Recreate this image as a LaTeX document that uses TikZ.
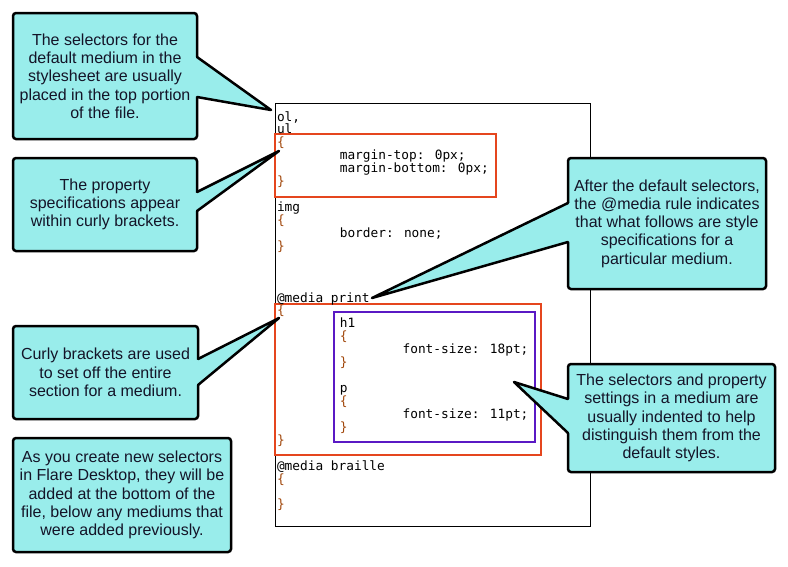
\documentclass[tikz,border=0pt]{standalone}
\usepackage{fontspec}
\setmainfont{Liberation Sans}
\newfontfamily\codefont{DejaVu Sans Mono}
\usetikzlibrary{calc}
\definecolor{callfill}{RGB}{153,237,235}
\definecolor{calltext}{RGB}{20,20,40}
\definecolor{bracecol}{RGB}{160,70,10}
\definecolor{redbox}{RGB}{229,70,30}
\definecolor{purplebox}{RGB}{90,25,196}
\tikzset{
  callbox/.style={draw=black, fill=callfill, line width=2.5pt, rounded corners=3pt,
    align=center, font=\fontsize{16}{18.3}\selectfont, text=calltext,
    inner sep=0pt, outer sep=0pt},
  wedgeline/.style={draw=black, line width=2.5pt, line join=round, line cap=round},
  code/.style={anchor=base west, inner sep=0pt, outer sep=0pt,
    font=\codefont\fontsize{12.8}{13}\selectfont, text=black},
  brc/.style={code, text=bracecol},
  codeframe/.style={draw=black, line width=1pt},
  redframe/.style={draw=redbox, line width=2pt},
  purpleframe/.style={draw=purplebox, line width=2pt},
}
\newcommand\codeln[5][code]{\node[#1] (#2) at ({277+7.85*#3},{121+12.93*#4}) {#5};}
\begin{document}
\begin{tikzpicture}[x=1pt,y=-1pt]
\useasboundingbox (0,0) rectangle (788,566);
% code frame
\draw[codeframe] (275,103) rectangle (590,526);
\draw[redframe] (275,134) rectangle (496,197);
\draw[redframe] (275,304) rectangle (541,455);
\draw[purpleframe] (334,312) rectangle (535,442);
% code lines
\codeln{k0}{0}{0}{ol,}
\codeln{k1}{0}{1}{ul}
\codeln[brc]{k2}{0}{2}{\{}
\codeln{k3}{8}{3}{margin-top: 0px;}
\codeln{k4}{8}{4}{margin-bottom: 0px;}
\codeln[brc]{k5}{0}{5}{\}}
\codeln{k7}{0}{7}{img}
\codeln[brc]{k8}{0}{8}{\{}
\codeln{k9}{8}{9}{border: none;}
\codeln[brc]{k10}{0}{10}{\}}
\codeln{k14}{0}{14}{@media print}
\codeln[brc]{k15}{0}{15}{\{}
\codeln{k16}{8}{16}{h1}
\codeln[brc]{k17}{8}{17}{\{}
\codeln{k18}{16}{18}{font-size: 18pt;}
\codeln[brc]{k19}{8}{19}{\}}
\codeln{k21}{8}{21}{p}
\codeln[brc]{k22}{8}{22}{\{}
\codeln{k23}{16}{23}{font-size: 11pt;}
\codeln[brc]{k24}{8}{24}{\}}
\codeln[brc]{k25}{0}{25}{\}}
\codeln{k27}{0}{27}{@media braille}
\codeln[brc]{k28}{0}{28}{\{}
\codeln[brc]{k30}{0}{30}{\}}
% callouts
\node[callbox, minimum width=184pt, minimum height=126pt] (c1) at (105,76)
  {The selectors for the\\default medium in the\\stylesheet are usually\\placed in the top portion\\of the file.};
\node[callbox, minimum width=184pt, minimum height=93pt] (c2) at (105,204.5)
  {The property\\specifications appear\\within curly brackets.};
\node[callbox, minimum width=185pt, minimum height=93pt] (c3) at (105.5,372.5)
  {Curly brackets are used\\to set off the entire\\section for a medium.};
\node[callbox, minimum width=218pt, minimum height=114pt] (c4) at (122,495)
  {As you create new selectors\\in Flare Desktop, they will be\\added at the bottom of the\\file, below any mediums that\\were added previously.};
\node[callbox, minimum width=198pt, minimum height=131pt] (c5) at (667,223.5)
  {After the default selectors,\\the @media rule indicates\\that what follows are style\\specifications for a\\particular medium.};
\node[callbox, minimum width=207pt, minimum height=108pt] (c6) at (671.5,418)
  {The selectors and property\\settings in a medium are\\usually indented to help\\distinguish them from the\\default styles.};
% pointer tips and bases
\coordinate (t1) at (271,110);
\coordinate (t2) at (279,151);
\coordinate (t3) at (279,318);
\coordinate (t5) at (372,298);
\coordinate (t6) at (514,382);
\coordinate (c1a) at (c1.east |- 0,57);  \coordinate (c1b) at (c1.east |- 0,97);
\coordinate (c2a) at (c2.east |- 0,192); \coordinate (c2b) at (c2.east |- 0,211);
\coordinate (c3a) at (c3.east |- 0,359); \coordinate (c3b) at (c3.east |- 0,385);
\coordinate (c5a) at (c5.west |- 0,203); \coordinate (c5b) at (c5.west |- 0,242);
\coordinate (c6a) at (c6.west |- 0,399); \coordinate (c6b) at (c6.west |- 0,433);
% wedges: fill (covering the box border at the base), then the two sides
\foreach \c/\t/\d in {c1/t1/-3, c2/t2/-3, c3/t3/-3, c5/t5/3, c6/t6/3}{
  \fill[callfill] ($(\c a)+(\d,0)$) -- (\c a) -- (\t) -- (\c b) -- ($(\c b)+(\d,0)$) -- cycle;
  \draw[wedgeline] (\c a) -- (\t) -- (\c b);
}
\end{tikzpicture}
\end{document}
